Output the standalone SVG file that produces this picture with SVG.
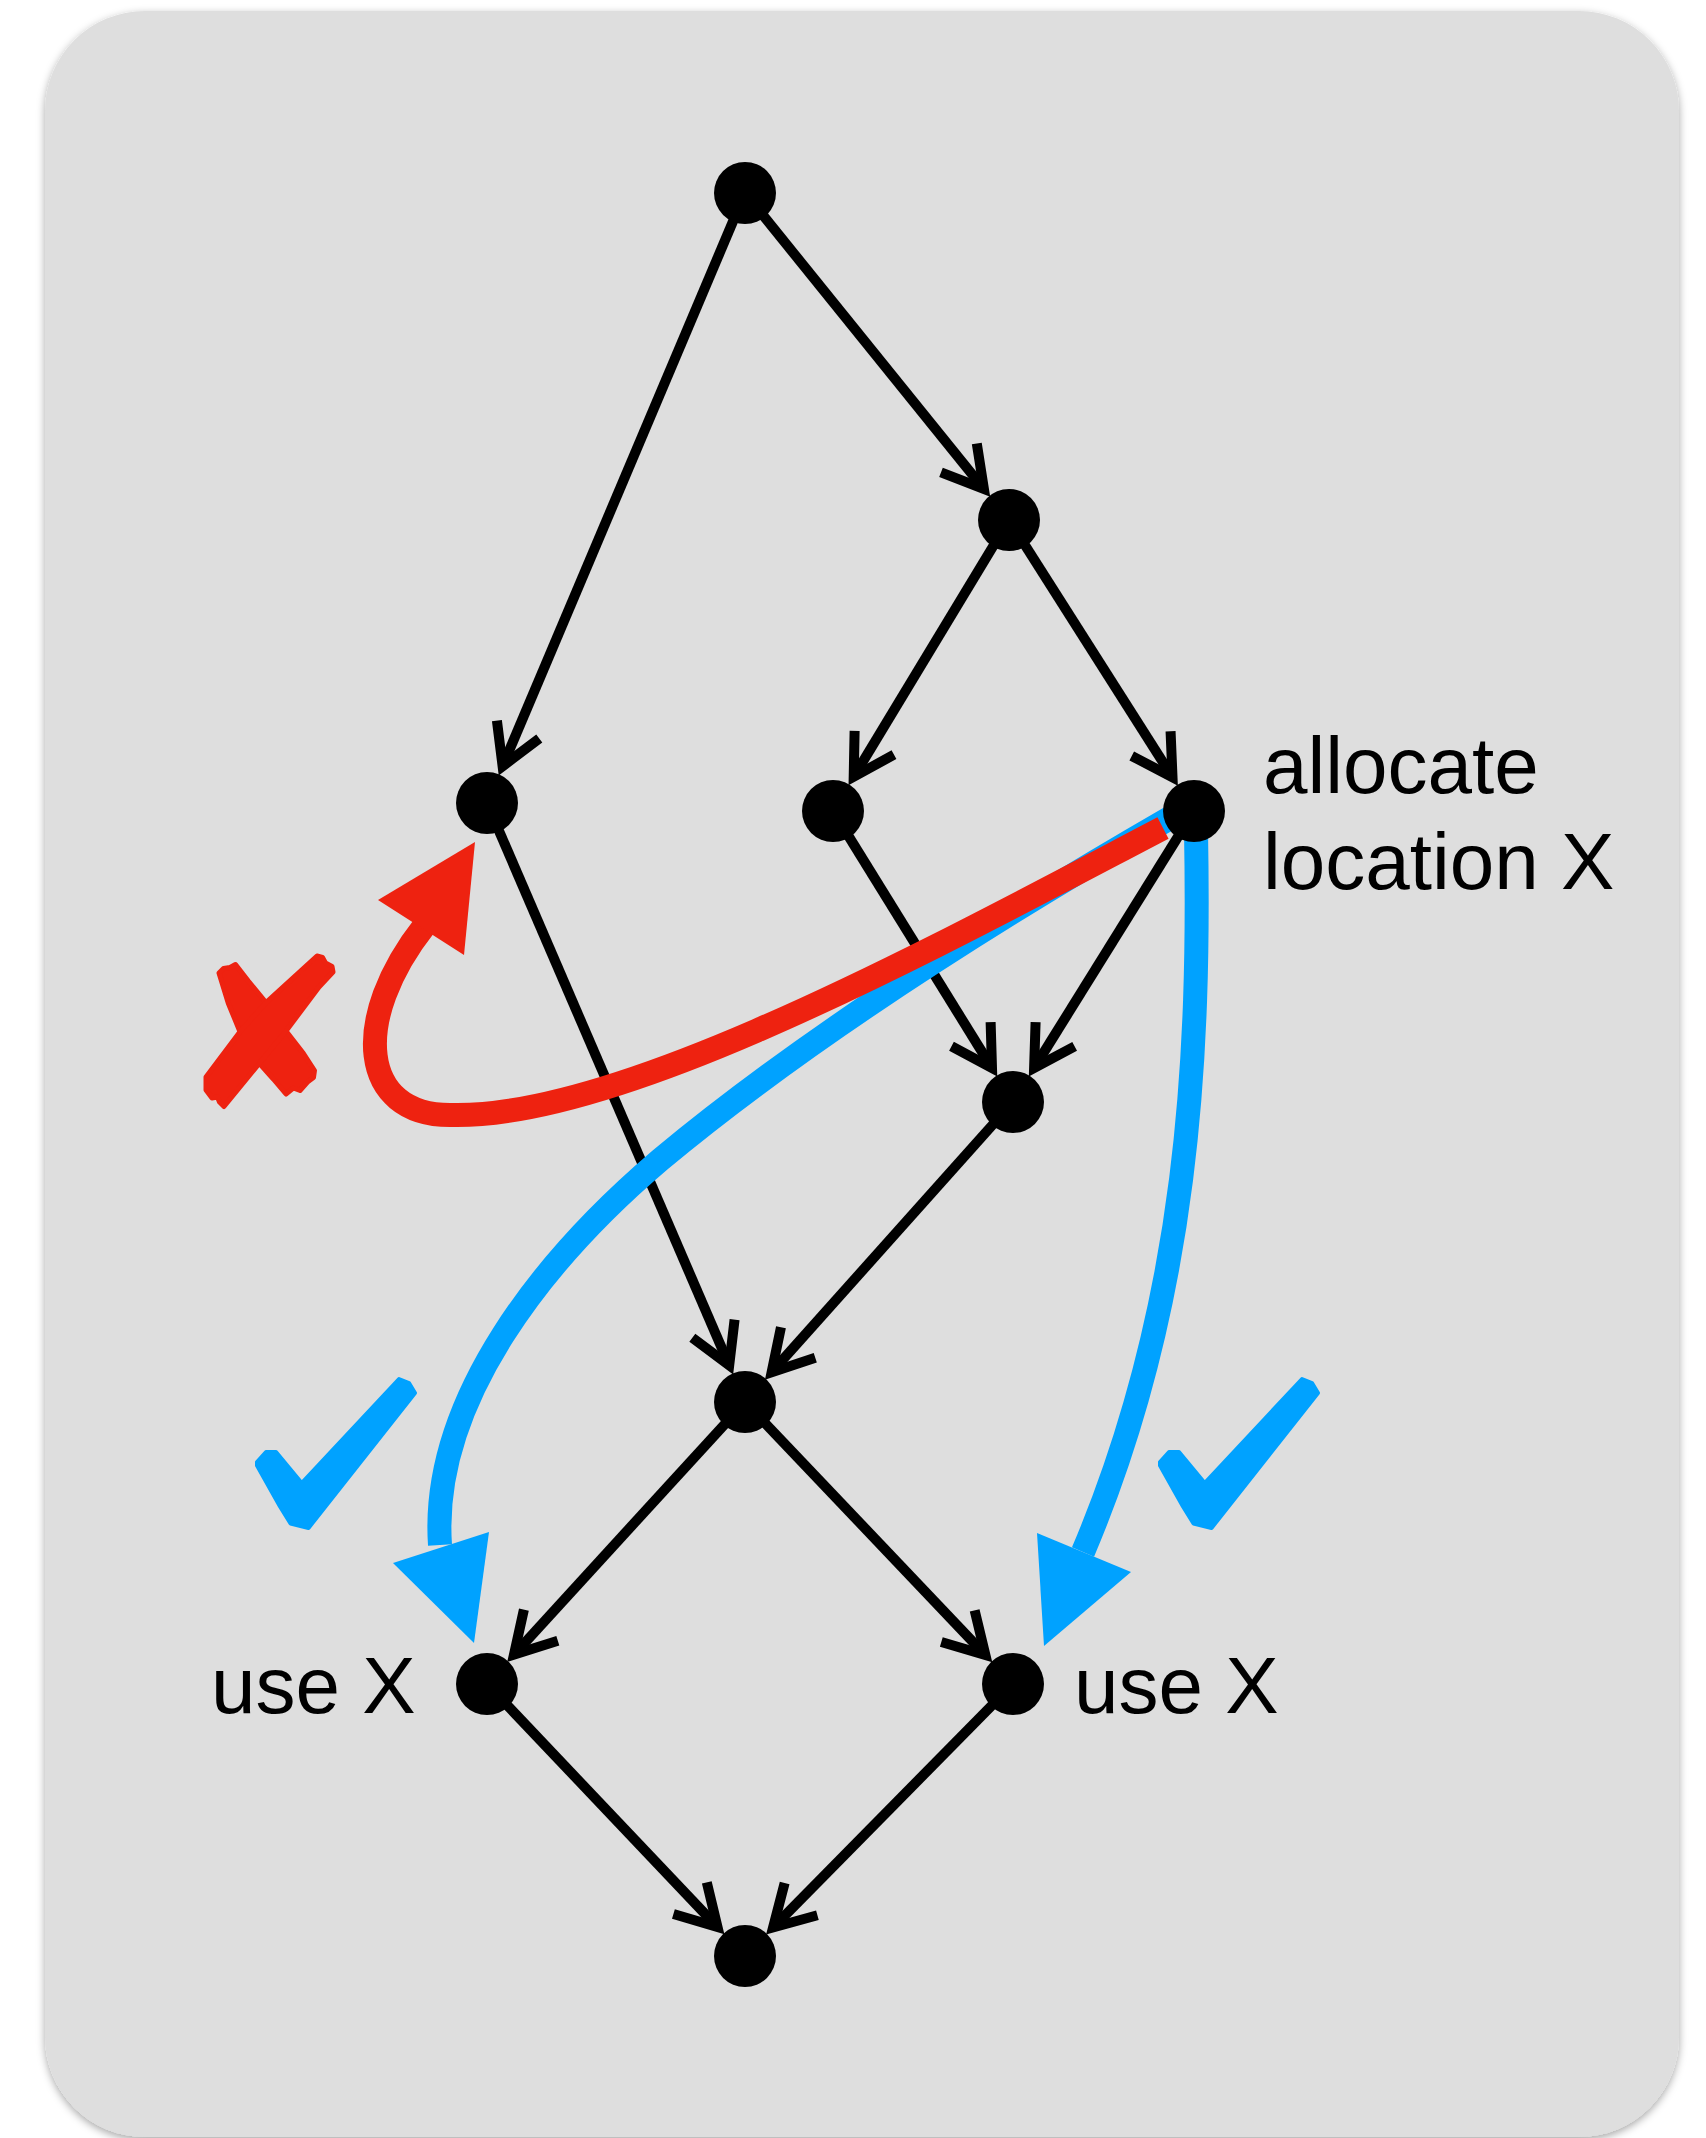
<svg xmlns="http://www.w3.org/2000/svg" width="1706" height="2138" viewBox="0 0 1706 2138">
<style>
.edge{fill:none;stroke:#000;stroke-width:10;marker-end:url(#ah)}
.node{fill:#000}
.lbl{font-family:"Liberation Sans",Arial,sans-serif;font-size:80px;fill:#000}
.red{fill:none;stroke:#EE2210;stroke-width:24}
.blue{fill:none;stroke:#00A2FF;stroke-width:24}
.xmark{fill:#EE2210;stroke:#EE2210;stroke-width:5;stroke-linejoin:round}
.chk{fill:#00A2FF;stroke:#00A2FF;stroke-width:4;stroke-linejoin:round}
</style>
<defs>
<filter id="sh" x="-5%" y="-5%" width="110%" height="110%">
<feDropShadow dx="0" dy="3" stdDeviation="4" flood-color="#000" flood-opacity="0.35"/>
</filter>
<marker id="ah" markerUnits="userSpaceOnUse" markerWidth="120" markerHeight="120" viewBox="-60 -60 120 120" refX="0" refY="0" orient="auto" overflow="visible">
<path d="M-39.8,-23 L0,0 L-39.8,23" fill="none" stroke="#000" stroke-width="10" stroke-linejoin="miter"/>
</marker>
<path id="check" class="chk" d="M257,1462 L266,1452 L276,1452 L301.7,1483 L399,1379 L409,1383 L415,1393 L308.5,1528 L290.5,1523.5 L280,1506.5 L257,1465.5 Z"/>
</defs>
<rect x="45" y="11" width="1634" height="2126" rx="100" ry="100" fill="#DEDEDE" filter="url(#sh)"/>

<g id="connectors">
<line class="edge" x1="745" y1="193" x2="502.6" y2="766.2"/>
<line class="edge" x1="745" y1="193" x2="983.9" y2="488.9"/>
<line class="edge" x1="1009" y1="520" x2="853.7" y2="776.8"/>
<line class="edge" x1="1009" y1="520" x2="1172.5" y2="777.2"/>
<line class="edge" x1="487" y1="803" x2="729.2" y2="1365.3"/>
<line class="edge" x1="833" y1="811" x2="992" y2="1068"/>
<line class="edge" x1="1194" y1="811" x2="1034.1" y2="1068"/>
<line class="edge" x1="1013" y1="1102" x2="771.6" y2="1372.2"/>
<line class="edge" x1="745" y1="1402" x2="514" y2="1654.5"/>
<line class="edge" x1="745" y1="1402" x2="985.4" y2="1655"/>
<line class="edge" x1="487" y1="1684" x2="717.5" y2="1927"/>
<line class="edge" x1="1013" y1="1684" x2="773.1" y2="1927.5"/>
</g>

<g id="blue-arrows">
<path class="blue" d="M1170,818 C950,945 780,1060 660,1160 C545,1258 430,1400 440,1545"/>
<polygon points="393,1563 489,1532 474,1643" fill="#00A2FF"/>
<path class="blue" d="M1196,830 C1200,1050 1190,1300 1083,1552"/>
<polygon points="1037,1533 1131,1572 1044,1646" fill="#00A2FF"/>
</g>

<g id="red-arrow">
<path class="red" d="M1163,828 C930,950 620,1120 450,1115 C360,1115 350,1020 425,925"/>
<polygon points="378,900 475,842 464,955" fill="#EE2210"/>
</g>

<g id="nodes">
<circle id="n-top" class="node" cx="745" cy="193" r="31"/>
<circle id="n-right1" class="node" cx="1009" cy="520" r="31"/>
<circle id="n-left" class="node" cx="487" cy="803" r="31"/>
<circle id="n-mid" class="node" cx="833" cy="811" r="31"/>
<g id="n-alloc">
<circle class="node" cx="1194" cy="811" r="31"/>
<text class="lbl" x="1263" y="793">allocate</text>
<text class="lbl" x="1263" y="889">location X</text>
</g>
<circle id="n-center" class="node" cx="1013" cy="1102" r="31"/>
<circle id="n-join" class="node" cx="745" cy="1402" r="31"/>
<g id="n-useL">
<circle class="node" cx="487" cy="1684" r="31"/>
<text class="lbl" x="211" y="1713">use X</text>
</g>
<g id="n-useR">
<circle class="node" cx="1013" cy="1684" r="31"/>
<text class="lbl" x="1074" y="1713">use X</text>
</g>
<circle id="n-bottom" class="node" cx="745" cy="1956" r="31"/>
</g>

<g id="marks">
<polygon class="xmark" points="219,973 223.5,968.5 230,967.5 235.5,964.5 248.3,981 266,1002.7 286,1031 303.3,1053.3 314.5,1070.5 313.5,1077.5 307.5,1082 300,1090.5 293.3,1088 286,1094 273.3,1079 259.3,1063.3 240,1031.7 228.3,1003.3"/>
<polygon class="xmark" points="317,956 322.5,957.5 325.5,963 332,966.5 333,972 319,987 286,1031 259.3,1063.3 224,1106.5 219.5,1102 217.5,1097 212,1098 206,1090 206,1077 240,1031.7 266,1002.7"/>
<use href="#check"/>
<use href="#check" transform="translate(903,0)"/>
</g>
</svg>
